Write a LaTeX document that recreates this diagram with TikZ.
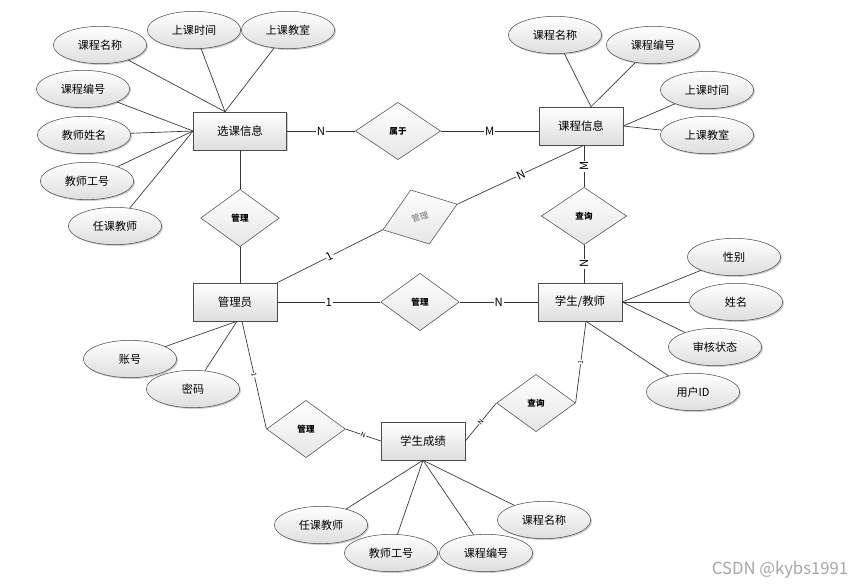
\documentclass[tikz,border=0pt]{standalone}
\usepackage{fontspec}
\setmainfont{Noto Sans CJK SC}
\usepackage{tikz}
\usetikzlibrary{shapes.geometric,shadows,calc}

\begin{document}
\begin{tikzpicture}[
  x=0.75pt, y=-0.75pt,
  entity/.style={draw=black!70,rectangle,top color=white,bottom color=black!13,
    minimum width=63pt,minimum height=28.5pt,inner sep=1pt,font=\fontsize{8.6}{10}\selectfont,
    drop shadow={shadow xshift=1pt,shadow yshift=-1pt,fill=black!40}},
  attr/.style={draw=black!70,ellipse,top color=white,bottom color=black!13,
    minimum width=70pt,minimum height=28pt,inner sep=0pt,font=\fontsize{8.3}{10}\selectfont,
    drop shadow={shadow xshift=1pt,shadow yshift=-1pt,fill=black!40}},
  rel/.style={draw=black!70,diamond,top color=white,bottom color=black!10,
    minimum width=59pt,minimum height=43pt,inner sep=0pt,font=\fontsize{6.4}{7}\selectfont\bfseries},
  lbl/.style={fill=white,inner sep=0.6pt,font=\fontsize{8.5}{9}\selectfont},
  tinylbl/.style={fill=white,inner sep=0.3pt,sloped,font=\fontsize{5}{5}\selectfont},
  conn/.style={draw=black!80,line width=0.5pt}
]
\useasboundingbox (0,0) rectangle (853,586);
% Entities
\node[entity,minimum width=70pt] (xk) at (240,131) {选课信息};
\node[entity] (kc) at (581,126) {课程信息};
\node[entity] (gly) at (235,302) {管理员};
\node[entity] (xs) at (580,302) {学生/教师};
\node[entity] (cj) at (423,441) {学生成绩};
% Relations
\node[rel,minimum width=64pt] (sy) at (398,131) {属于};
\node[rel] (gl1) at (240,218) {管理};
\node[rel,rotate=19,text=black!55,font=\fontsize{6.4}{7}\selectfont] (gl2) at (420,217) {管理};
\node[rel] (gl3) at (420,302) {管理};
\node[rel,minimum width=64pt] (cx1) at (584,216) {查询};
\node[rel] (gl4) at (306,429) {管理};
\node[rel] (cx2) at (536,403) {查询};
% Attributes of 选课信息
\node[attr] (a1) at (100,45) {课程名称};
\node[attr] (a2) at (194,30) {上课时间};
\node[attr] (a3) at (288,30) {上课教室};
\node[attr] (a4) at (83,89) {课程编号};
\node[attr] (a5) at (84,135) {教师姓名};
\node[attr] (a6) at (87,181) {教师工号};
\node[attr] (a7) at (115,226) {任课教师};
% Attributes of 课程信息
\node[attr] (b1) at (555,35) {课程名称};
\node[attr] (b2) at (653,45) {课程编号};
\node[attr] (b3) at (707,90) {上课时间};
\node[attr] (b4) at (707,135) {上课教室};
% Attributes of 学生/教师
\node[attr] (c1) at (734,257) {性别};
\node[attr] (c2) at (736,302) {姓名};
\node[attr] (c3) at (715,347) {审核状态};
\node[attr] (c4) at (693,392) {用户ID};
% Attributes of 管理员
\node[attr] (d1) at (130,359) {账号};
\node[attr] (d2) at (193,389) {密码};
% Attributes of 学生成绩
\node[attr] (e1) at (321,525) {任课教师};
\node[attr] (e2) at (391,553) {教师工号};
\node[attr] (e3) at (486,553) {课程编号};
\node[attr] (e4) at (544,520) {课程名称};
% Meeting points on the boxes
\coordinate (xkn) at ($(xk.north)+(-15,0)$);
\coordinate (kcn) at ($(kc.north)+(10,0)$);
\coordinate (kcs) at (cx1.north |- kc.south);
\coordinate (xss) at ($(xs.south)+(6,0)$);
\coordinate (glya) at ($(gly.south)+(2,0)$);
\coordinate (glys) at ($(gly.south)+(7,0)$);
% Attribute edges
\draw[conn] (a1) -- (xkn); \draw[conn] (a2) -- (xkn); \draw[conn] (a3) -- (xkn);
\draw[conn] (a4) -- (xk.west); \draw[conn] (a5) -- (xk.west);
\draw[conn] (a6) -- (xk.west); \draw[conn] (a7) -- (xk.west);
\draw[conn] (b1) -- (kcn); \draw[conn] (b2) -- (kcn);
\draw[conn] (b3) -- (kc.east); \draw[conn] (b4) -- (kc.east);
\draw[conn] (c1) -- (xs.east); \draw[conn] (c2) -- (xs.east);
\draw[conn] (c3) -- (xs.east); \draw[conn] (c4) -- (xss);
\draw[conn] (d1) -- (glya); \draw[conn] (d2) -- (glya);
\draw[conn] (e1) -- (cj.south); \draw[conn] (e2) -- (cj.south);
\draw[conn] (e3) -- (cj.south); \draw[conn] (e4) -- (cj.south);
% Relation edges
\draw[conn] (xk) -- node[lbl]{N} (sy);
\draw[conn] (sy.east) -- node[lbl]{M} (sy.east -| kc.west);
\draw[conn] (xk) -- (gl1);
\draw[conn] (gl1.south) -- (gl1.south |- gly.north);
\draw[conn] (gly.north east) -- node[lbl,sloped]{1} (gl2.west);
\draw[conn] (gl2.east) -- node[lbl,sloped]{N} (kcs);
\draw[conn] (kcs) -- node[lbl,rotate=90]{M} (cx1.north);
\draw[conn] (cx1.south) -- node[lbl,rotate=90]{N} (cx1.south |- xs.north);
\draw[conn] (gly) -- node[lbl]{1} (gl3);
\draw[conn] (gl3) -- node[lbl]{N} (xs);
\draw[conn] (glys) -- node[tinylbl]{1} (gl4.west);
\draw[conn] (gl4.east) -- node[tinylbl]{N} (cj.west);
\draw[conn] (cj.east) -- node[tinylbl]{N} (cx2.west);
\draw[conn] (cx2.east) -- node[tinylbl]{1} (xss);
% Watermark
\node[text=black!35,font=\fontsize{12.5}{13}\selectfont] (wm) at (780,570) {CSDN @kybs1991};
\end{tikzpicture}
\end{document}
